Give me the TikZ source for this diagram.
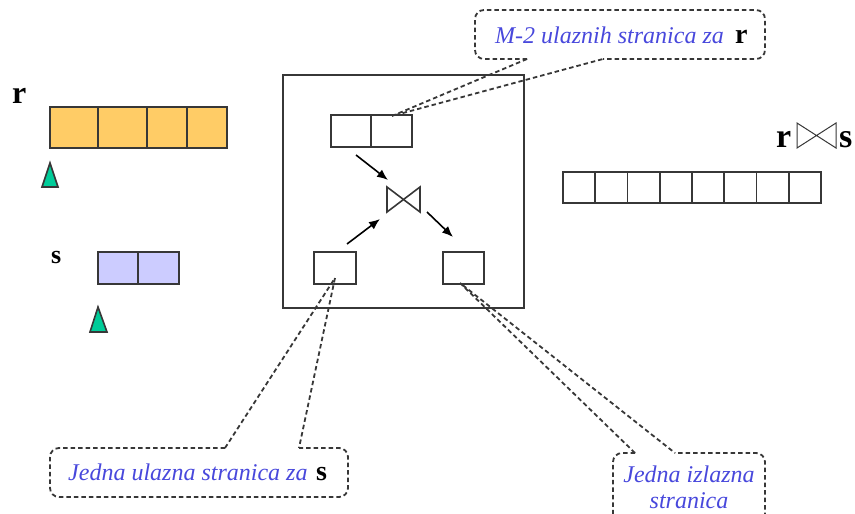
\documentclass[tikz,border=0pt]{standalone}
\usepackage{fontspec}
\setmainfont{Liberation Serif}
\usetikzlibrary{arrows.meta}
\definecolor{ryellow}{RGB}{255,204,102}
\definecolor{slav}{RGB}{204,204,255}
\definecolor{tgreen}{RGB}{0,204,153}
\definecolor{cblue}{RGB}{72,72,220}
\definecolor{dline}{RGB}{55,55,55}
\tikzset{
  cell/.style={draw=dline, line width=1.8pt, inner sep=0pt, outer sep=0pt, minimum height=#1},
  cell/.default=32pt,
  memory/.style={draw=dline, line width=1.8pt, inner sep=0pt, outer sep=0pt, minimum width=241pt, minimum height=233pt},
  ptr/.style={draw=dline, line width=1.8pt, dash pattern=on 4.5pt off 3pt},
  callout/.style={draw=dline, line width=1.8pt, dash pattern=on 4.5pt off 3pt, rounded corners=9pt},
  flow/.style={draw=black, line width=1.6pt, -{Latex[length=11pt,width=9pt]}},
  tri/.style={draw=dline, line width=1.6pt, fill=tgreen},
  ctext/.style={text=cblue, font=\fontsize{24}{26}\selectfont\itshape, inner sep=0pt},
  rellabel/.style={font=\fontsize{#1}{#1}\selectfont\bfseries, inner sep=0pt},
}
\begin{document}
\begin{tikzpicture}[x=1pt,y=-1pt]
\useasboundingbox (0,0) rectangle (855,514);
\clip (0,0) rectangle (855,514);
% relation r
\node[rellabel=32, anchor=base west] (rlab) at (12,103) {r};
\node[cell=41pt, minimum width=48pt, fill=ryellow] (r1) at (74,127.5) {};
\node[cell=41pt, minimum width=49pt, fill=ryellow] (r2) at (122.5,127.5) {};
\node[cell=41pt, minimum width=40pt, fill=ryellow] (r3) at (167,127.5) {};
\node[cell=41pt, minimum width=40pt, fill=ryellow] (r4) at (207,127.5) {};
\draw[tri] (50,163) -- (58,187) -- (42,187) -- cycle;
% relation s
\node[rellabel=26, anchor=base west] (slab) at (51,263) {s};
\node[cell, minimum width=40pt, fill=slav] (s1) at (118,268) {};
\node[cell, minimum width=41pt, fill=slav] (s2) at (158.5,268) {};
\draw[tri] (98,307) -- (107,332) -- (90,332) -- cycle;
% memory
\node[memory] (mem) at (403.5,191.5) {};
\node[cell, minimum width=40pt] (t1) at (351,131) {};
\node[cell, minimum width=41pt] (t2) at (391.5,131) {};
\node[cell, minimum width=42pt] (bin) at (335,268) {};
\node[cell, minimum width=41pt] (bout) at (463.5,268) {};
\draw[line width=1.6pt, draw=dline] (387,187) -- (387,212) -- (420,187) -- (420,212) -- cycle;
\coordinate (a1s) at (356,155); \coordinate (a1e) at (388,180);
\coordinate (a2s) at (347,244); \coordinate (a2e) at (380,219);
\coordinate (a3s) at (427,212); \coordinate (a3e) at (453,237);
\draw[flow] (a1s) -- (a1e);
\draw[flow] (a2s) -- (a2e);
\draw[flow] (a3s) -- (a3e);
% result
\foreach \i in {0,...,7} {
  \node[cell=31pt, minimum width=32.25pt] (o\i) at ({579.125+32.25*\i},187.5) {};
}
\node[rellabel=34, anchor=base west] (orl) at (776,147) {r};
\draw[line width=1pt, draw=dline] (797,123) -- (797,148) -- (836,123) -- (836,148) -- cycle;
\node[rellabel=34, anchor=base west] (osl) at (839,147) {s};
% callout 1
\coordinate (c1tip) at (392,116);
\coordinate (c1a) at (527,59); \coordinate (c1b) at (603,59);
\draw[callout] (c1a) -- (475,59) -- (475,10) -- (765,10) -- (765,59) -- (c1b);
\draw[ptr] (c1a) -- (c1tip) -- (c1b);
\node[ctext, anchor=base west] (c1t) at (495,43) {M-2 ulaznih stranica za};
\node[rellabel=28, anchor=base west] (c1r) at (735,43) {r};
% callout 2
\coordinate (c2tip) at (335,278);
\coordinate (c2a) at (225,448); \coordinate (c2b) at (299,448);
\draw[callout] (c2a) -- (50,448) -- (50,497) -- (348,497) -- (348,448) -- (c2b);
\draw[ptr] (c2a) -- (c2tip) -- (c2b);
\node[ctext, anchor=base west] (c2t) at (68,480) {Jedna ulazna stranica za};
\node[rellabel=28, anchor=base west] (c2s) at (316,480) {s};
% callout 3
\coordinate (c3tip) at (460,283);
\coordinate (c3a) at (635,453); \coordinate (c3b) at (675,453);
\draw[callout] (c3a) -- (613,453) -- (613,524) -- (765,524) -- (765,453) -- (c3b);
\draw[ptr] (c3a) -- (c3tip) -- (c3b);
\node[ctext, anchor=base] (c3t1) at (689,482) {Jedna izlazna};
\node[ctext, anchor=base] (c3t2) at (689,508) {stranica};
\end{tikzpicture}
\end{document}
